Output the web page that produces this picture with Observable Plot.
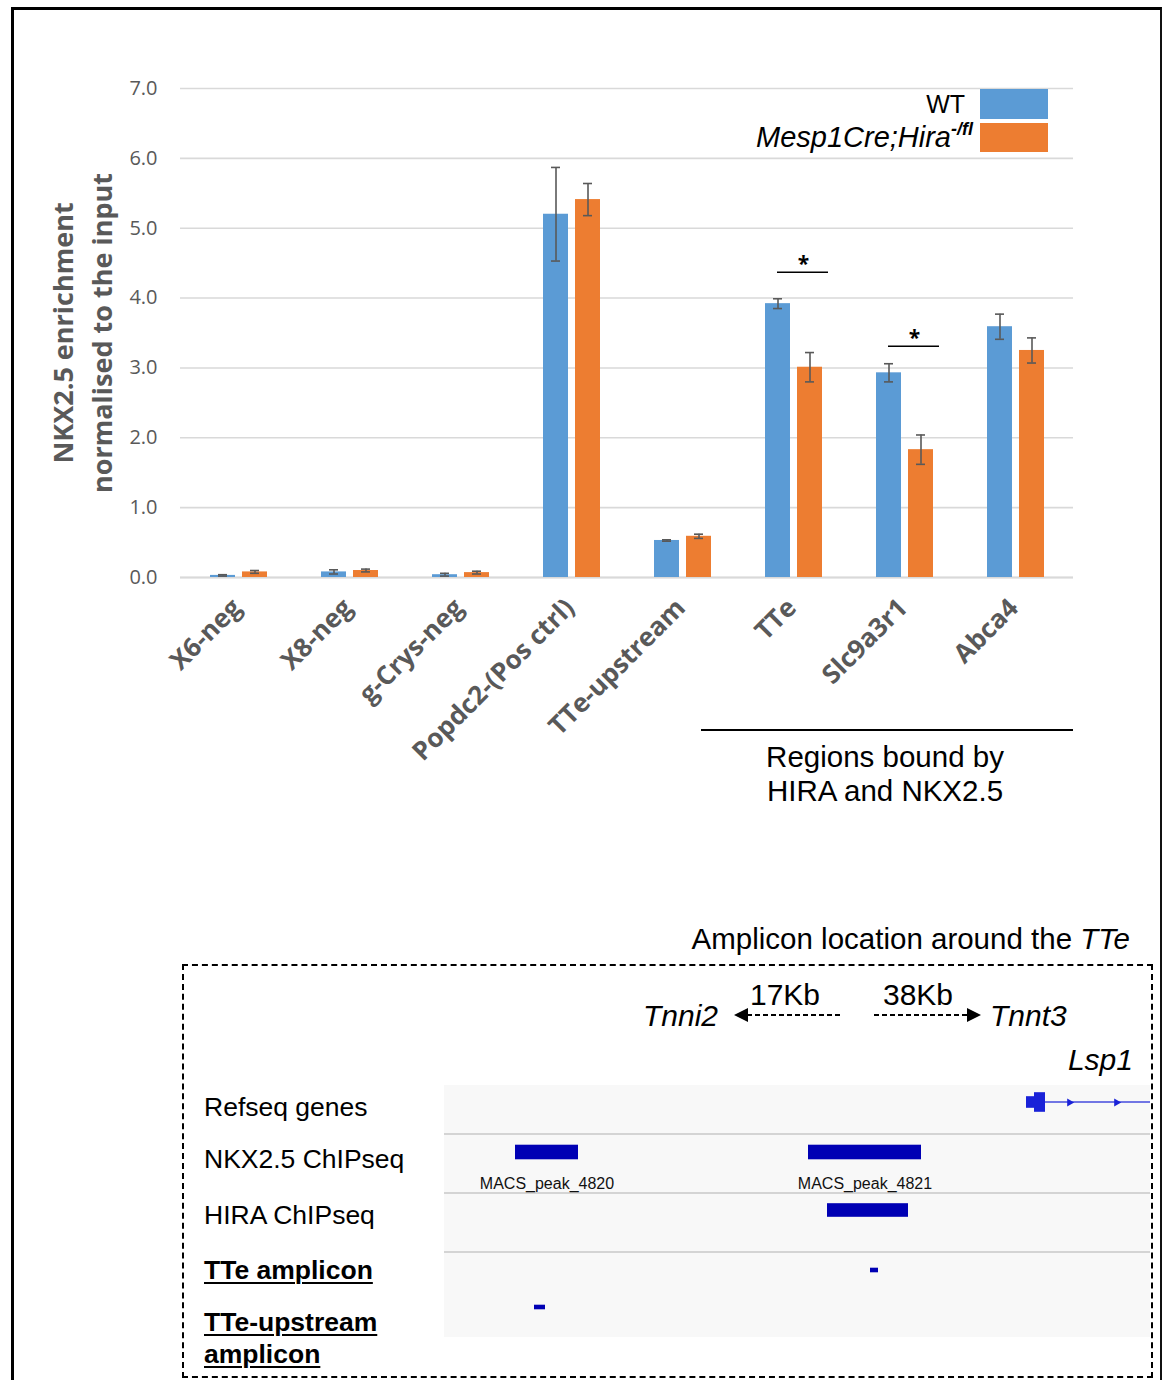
<!DOCTYPE html>
<html>
<head>
<meta charset="utf-8">
<script src="https://cdn.jsdelivr.net/npm/d3@7"></script>
<script src="https://cdn.jsdelivr.net/npm/@observablehq/plot@0.6"></script>
<style>
  html, body { margin: 0; padding: 0; background: #fff; }
  #page { position: relative; width: 1163px; height: 1380px; overflow: hidden; background: #fff; font-family: "Liberation Sans", Arial, sans-serif; color: #000; }
  .abs { position: absolute; white-space: nowrap; }
  .lbl { font-size: 26.5px; line-height: 30px; }
  .bu { font-weight: bold; text-decoration: underline; text-decoration-thickness: 2px; text-underline-offset: 3px; }
  .gene { font-style: italic; font-size: 30px; line-height: 34px; }
</style>
</head>
<body>
<div id="page">
  <div class="abs" style="left:11px;top:7px;width:1146px;height:1400px;border:3px solid #000;border-right:2px solid #111;"></div>
  <div id="chart" class="abs" style="left:0;top:0;"></div>

  <!-- legend -->
  <div id="legend"></div>

  <!-- group annotation -->
  <div class="abs" style="left:701px;top:729px;width:372px;height:1.5px;background:#000;"></div>
  <div class="abs" style="left:735px;top:740px;width:300px;text-align:center;font-size:29.5px;line-height:34px;">Regions bound by<br>HIRA and NKX2.5</div>

  <!-- bottom panel -->
  <div class="abs" style="left:580px;top:922px;width:550px;text-align:right;font-size:29.5px;line-height:34px;">Amplicon location around the <i>TTe</i></div>
  <div class="abs" style="left:182px;top:964px;width:967px;height:410px;border:2px dashed #000;"></div>
  <div class="abs" style="left:444px;top:1133px;width:706px;height:2px;background:#d4d4d4;"></div>
  <div class="abs" style="left:444px;top:1192px;width:706px;height:2px;background:#d4d4d4;"></div>
  <div class="abs" style="left:444px;top:1251px;width:706px;height:2px;background:#d4d4d4;"></div>
  <div id="tracks" class="abs" style="left:444px;top:1085px;"></div>
  <div id="trackLabels"></div>

  <div class="abs" style="left:720px;top:978px;width:130px;text-align:center;font-size:30px;line-height:34px;">17Kb</div>
  <div class="abs" style="left:853px;top:978px;width:130px;text-align:center;font-size:30px;line-height:34px;">38Kb</div>
  <div class="abs gene" style="left:520px;top:999px;width:198px;text-align:right;">Tnni2</div>
  <div class="abs gene" style="left:990px;top:999px;">Tnnt3</div>
  <div class="abs gene" style="left:935px;top:1043px;width:198px;text-align:right;">Lsp1</div>
  <svg class="abs" style="left:0;top:0;" width="1163" height="1380">
    <line x1="840" y1="1015" x2="745" y2="1015" stroke="#000" stroke-width="2" stroke-dasharray="5,3"/>
    <path d="M734,1015 L748,1008 L748,1022 Z" fill="#000"/>
    <line x1="874" y1="1015" x2="969" y2="1015" stroke="#000" stroke-width="2" stroke-dasharray="5,3"/>
    <path d="M981,1015 L967,1008 L967,1022 Z" fill="#000"/>
  </svg>
</div>

<script>
// ---------------- data: bar chart ----------------
const categories = ["X6-neg", "X8-neg", "g-Crys-neg", "Popdc2-(Pos ctrl)", "TTe-upstream", "TTe", "Slc9a3r1", "Abca4"];
const seriesNames = ["WT", "Mesp1Cre;Hira-/fl"];
const wtValues  = [0.03, 0.08, 0.04, 5.20, 0.53, 3.92, 2.93, 3.59];
const wtErrors  = [0.01, 0.03, 0.02, 0.67, 0.01, 0.07, 0.13, 0.18];
const mutValues = [0.08, 0.10, 0.07, 5.41, 0.59, 3.01, 1.83, 3.25];
const mutErrors = [0.02, 0.02, 0.02, 0.23, 0.03, 0.21, 0.21, 0.18];
const yTicks = [0, 1, 2, 3, 4, 5, 6, 7];
const sigCategories = ["TTe", "Slc9a3r1"];
const sigLevels = [4.37, 3.31];
const sigLabels = ["*", "*"];
const groupLabel = "Regions bound by HIRA and NKX2.5";
const yTitle = ["NKX2.5 enrichment", "normalised to the input"];

// ---------------- data: genome tracks (relative kb) ----------------
const tracks = ["Refseq genes", "NKX2.5 ChIPseq", "HIRA ChIPseq", "TTe amplicon", "TTe-upstream amplicon"];
const regionKb = [0, 70.6];
const nkxPeakNames = ["MACS_peak_4820", "MACS_peak_4821"];
const nkxPeakStart = [7.1, 36.4];
const nkxPeakEnd = [13.4, 47.7];
const hiraPeakStart = [38.3];
const hiraPeakEnd = [46.4];
const tteAmpliconStart = [42.6];
const tteAmpliconEnd = [43.4];
const upstreamAmpliconStart = [9.0];
const upstreamAmpliconEnd = [10.1];
const lsp1UtrStart = [58.2];
const lsp1ExonStart = [59.0];
const lsp1ExonEnd = [60.1];
const lsp1IntronEnd = [70.6];
const lsp1StrandArrows = [62.5, 67.2];

const BLUE = "#5b9bd5", ORANGE = "#ed7d31", GRAY = "#595959";

// ---------------- bar chart ----------------
const wt = categories.map((c, i) => ({cat: c, value: wtValues[i], err: wtErrors[i]}));
const mut = categories.map((c, i) => ({cat: c, value: mutValues[i], err: mutErrors[i]}));
const sig = sigCategories.map((c, i) => ({cat: c, level: sigLevels[i], label: sigLabels[i]}));

function seriesMarks(rows, fill, dx) {
  return [
    Plot.barY(rows, {x: "cat", y: "value", fill, dx, insetLeft: 43, insetRight: 43}),
    Plot.ruleX(rows, {x: "cat", y1: d => d.value - d.err, y2: d => d.value + d.err, dx, stroke: GRAY, strokeWidth: 1.6}),
    Plot.tickY(rows, {x: "cat", y: d => d.value + d.err, dx, insetLeft: 51, insetRight: 51, stroke: GRAY, strokeWidth: 1.6}),
    Plot.tickY(rows, {x: "cat", y: d => d.value - d.err, dx, insetLeft: 51, insetRight: 51, stroke: GRAY, strokeWidth: 1.6})
  ];
}

const chart = Plot.plot({
  width: 1163,
  height: 820,
  marginTop: 88,
  marginBottom: 243,
  marginLeft: 180,
  marginRight: 90,
  style: {fontFamily: "'Open Sans', sans-serif", background: "transparent", color: GRAY},
  x: {type: "band", domain: categories, padding: 0, label: null},
  y: {domain: [0, 7], label: null},
  marks: [
    Plot.gridY(yTicks, {stroke: "#d9d9d9", strokeOpacity: 1, strokeWidth: 1.6}),
    Plot.ruleY([0], {stroke: "#d9d9d9", strokeWidth: 2.2}),
    Plot.axisY(yTicks, {tickSize: 0, tickPadding: 23, tickFormat: d => d.toFixed(1), fontSize: 20, label: null}),
    Plot.axisX({tickRotate: -45, tickSize: 0, tickPadding: 26, fontSize: 26, fontWeight: "bold", label: null, dx: -2}),
    ...seriesMarks(wt, BLUE, -16),
    ...seriesMarks(mut, ORANGE, 16),
    Plot.ruleY(sig, {x1: "cat", x2: "cat", y: "level", insetLeft: 39, insetRight: 21, stroke: "#000", strokeWidth: 1.6}),
    Plot.text(sig, {x: "cat", y: "level", text: "label", dx: 9.5, dy: -8, fontSize: 21, fontWeight: "bold", fill: "#000"}),
    Plot.text([yTitle[0]], {text: d => d, frameAnchor: "left", textAnchor: "middle", rotate: -90, dx: -116, fontSize: 27, fontWeight: "bold", fill: GRAY}),
    Plot.text([yTitle[1]], {text: d => d, frameAnchor: "left", textAnchor: "middle", rotate: -90, dx: -77, fontSize: 27, fontWeight: "bold", fill: GRAY})
  ]
});
document.getElementById("chart").appendChild(chart);

// legend
const legend = document.getElementById("legend");
legend.innerHTML = `
  <div class="abs" style="left:700px;top:89px;width:265px;text-align:right;font-size:25px;line-height:30px;">${seriesNames[0]}</div>
  <div class="abs" style="left:980px;top:89px;width:68px;height:30px;background:${BLUE};"></div>
  <div class="abs" style="left:600px;top:121px;width:373px;text-align:right;font-size:29px;line-height:32px;font-style:italic;">Mesp1Cre;Hira<span style="font-size:18px;font-weight:bold;position:relative;top:-12px;">-/fl</span></div>
  <div class="abs" style="left:980px;top:123px;width:68px;height:29px;background:${ORANGE};"></div>`;

// ---------------- genome tracks ----------------
const nkx = nkxPeakNames.map((n, i) => ({track: tracks[1], name: n, start: nkxPeakStart[i], end: nkxPeakEnd[i]}));
const hira = hiraPeakStart.map((s, i) => ({track: tracks[2], start: s, end: hiraPeakEnd[i]}));
const tteAmp = tteAmpliconStart.map((s, i) => ({track: tracks[3], start: s, end: tteAmpliconEnd[i]}));
const upAmp = upstreamAmpliconStart.map((s, i) => ({track: tracks[4], start: s, end: upstreamAmpliconEnd[i]}));
const utr = lsp1UtrStart.map((s, i) => ({track: tracks[0], start: s, end: lsp1ExonStart[i]}));
const exon = lsp1ExonStart.map((s, i) => ({track: tracks[0], start: s, end: lsp1ExonEnd[i]}));
const intron = lsp1ExonEnd.map((s, i) => ({track: tracks[0], start: s, end: lsp1IntronEnd[i]}));
const arrows = lsp1StrandArrows.map(x => ({track: tracks[0], x}));

const FEAT = "#0000b4", GENE = "#1a22d8";
const BW = 252 / tracks.length;
const ins = h => (BW - h) / 2;

const trackPlot = Plot.plot({
  width: 706,
  height: 252,
  margin: 0,
  style: {background: "transparent", fontFamily: "'Liberation Sans', Arial, sans-serif"},
  x: {domain: regionKb, axis: null},
  y: {type: "band", domain: tracks, padding: 0, axis: null},
  marks: [
    Plot.barX(intron, {x1: "start", x2: "end", y: "track", dy: -9, insetTop: ins(1.6), insetBottom: ins(1.6), fill: GENE}),
    Plot.barX(utr, {x1: "start", x2: "end", y: "track", dy: -9, insetTop: ins(12), insetBottom: ins(12), fill: GENE}),
    Plot.barX(exon, {x1: "start", x2: "end", y: "track", dy: -9, insetTop: ins(20), insetBottom: ins(20), fill: GENE}),
    Plot.dot(arrows, {x: "x", y: "track", dy: -9, symbol: "triangle", rotate: 90, r: 3, fill: GENE}),
    Plot.barX(nkx, {x1: "start", x2: "end", y: "track", dy: -9, insetTop: ins(15), insetBottom: ins(15), fill: FEAT}),
    Plot.text(nkx, {x: d => (d.start + d.end) / 2, y: "track", text: "name", dy: 22, fontSize: 16, fill: "#111"}),
    Plot.barX(hira, {x1: "start", x2: "end", y: "track", dy: -1, insetTop: ins(14), insetBottom: ins(14), fill: FEAT}),
    Plot.barX(tteAmp, {x1: "start", x2: "end", y: "track", dy: 9, insetTop: ins(5), insetBottom: ins(5), fill: FEAT}),
    Plot.barX(upAmp, {x1: "start", x2: "end", y: "track", dy: -4, insetTop: ins(5), insetBottom: ins(5), fill: FEAT})
  ]
});
document.getElementById("tracks").appendChild(trackPlot);

document.getElementById("trackLabels").innerHTML = `
  <div class="abs lbl" style="left:204px;top:1092px;">${tracks[0]}</div>
  <div class="abs lbl" style="left:204px;top:1144px;">${tracks[1]}</div>
  <div class="abs lbl" style="left:204px;top:1200px;">${tracks[2]}</div>
  <div class="abs lbl bu" style="left:204px;top:1255px;">${tracks[3]}</div>
  <div class="abs lbl bu" style="left:204px;top:1306px;line-height:32px;">TTe-upstream<br>amplicon</div>`;
</script>
<style>
  /* track panel background drawn behind the separators */
</style>
<script>
  // background block of the track panel (behind separators and marks)
  const bg = document.createElement("div");
  bg.className = "abs";
  bg.style.cssText = "left:444px;top:1085px;width:706px;height:252px;background:#f8f8f8;";
  const page = document.getElementById("page");
  page.insertBefore(bg, page.children[1]);
</script>
</body>
</html>
